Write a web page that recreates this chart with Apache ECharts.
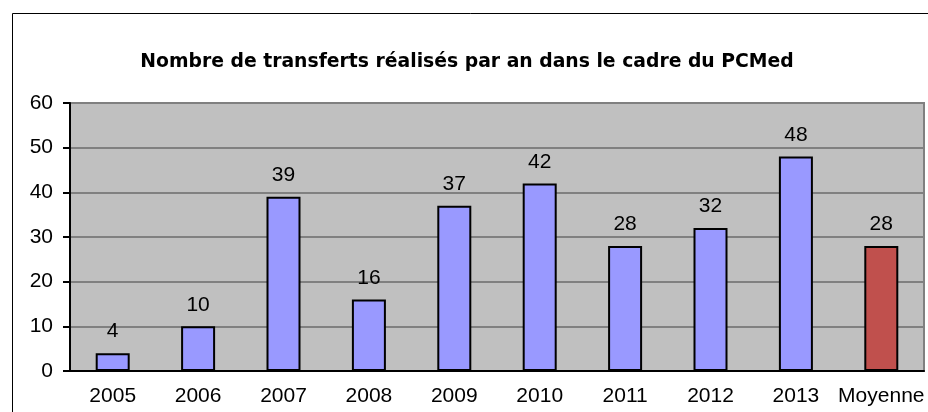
<!DOCTYPE html>
<html><head><meta charset="utf-8">
<script src="https://cdn.jsdelivr.net/npm/echarts@6/dist/echarts.min.js"></script>
<style>html,body{margin:0;padding:0;background:#fff}#c{width:928px;height:412px}</style>
</head><body><div id="c"></div>
<script>
const categories = ['2005','2006','2007','2008','2009','2010','2011','2012','2013','Moyenne'];
const values = [4,10,39,16,37,42,28,32,48,28];
const yTicks = {min:0, max:60, interval:10};
const titleText = 'Nombre de transferts réalisés par an dans le cadre du PCMed';

const chart = echarts.init(document.getElementById('c'), null, {renderer:'canvas'});
chart.setOption({
  animation:false,
  backgroundColor:'#fff',
  title:{text:titleText,left:462,textAlign:'center',top:48,
    textStyle:{fontFamily:'DejaVu Sans',fontWeight:'bold',fontSize:18.8,color:'#000'}},
  graphic:[{type:'rect',shape:{x:12.5,y:13.5,width:940,height:420},
    style:{fill:'none',stroke:'#000',lineWidth:1},z:-1}],
  grid:{left:70,top:103,right:4,bottom:41,show:true,backgroundColor:'#C0C0C0',borderColor:'#808080',borderWidth:2},
  xAxis:{type:'category',data:categories,
    axisLine:{lineStyle:{color:'#000',width:2}},
    axisTick:{length:7,lineStyle:{color:'#000',width:2}},
    axisLabel:{color:'#000',fontFamily:'Liberation Sans',fontSize:21,margin:15,interval:0}},
  yAxis:{type:'value',min:yTicks.min,max:yTicks.max,interval:yTicks.interval,
    axisLine:{show:true,lineStyle:{color:'#000',width:2}},
    axisTick:{show:true,length:7,lineStyle:{color:'#000',width:2}},
    splitLine:{lineStyle:{color:'#808080',width:2}},
    axisLabel:{color:'#000',fontFamily:'Liberation Sans',fontSize:21,margin:17}},
  series:[{type:'bar',barWidth:34,
    data:values.map((v,i)=>({value:v,itemStyle:{color:categories[i]==='Moyenne'?'#C0504D':'#9999FF'}})),
    itemStyle:{borderColor:'#000',borderWidth:2},
    label:{show:true,position:'top',distance:11,color:'#000',fontFamily:'Liberation Sans',fontSize:21}}]
});
</script></body></html>
